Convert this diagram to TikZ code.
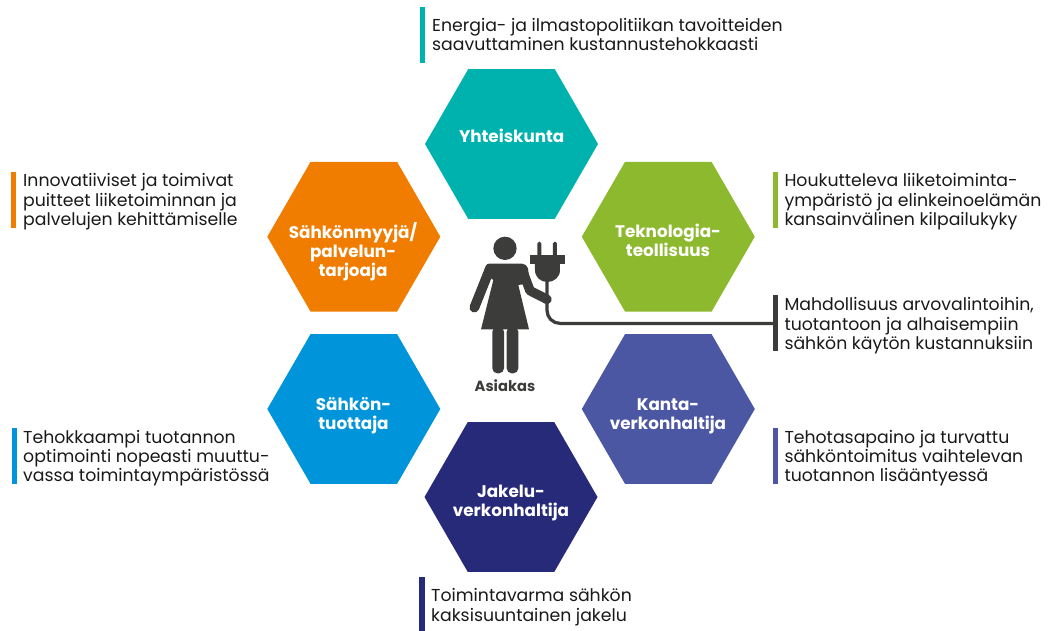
\documentclass[tikz,border=0pt]{standalone}
\usepackage{fontspec}
\setmainfont{Poppins}
\usetikzlibrary{shapes.geometric}
\definecolor{cteal}{HTML}{00B2AE}
\definecolor{corange}{HTML}{F07D00}
\definecolor{cgreen}{HTML}{8DB92E}
\definecolor{cblue}{HTML}{0095DA}
\definecolor{cpurple}{HTML}{4C57A3}
\definecolor{cnavy}{HTML}{262A78}
\definecolor{cdark}{HTML}{3C3C3B}
\newcommand{\fl}{\rule{0pt}{15pt}}
\tikzset{
  hexa/.style={regular polygon,regular polygon sides=6,minimum size=173pt,inner sep=0pt,outer sep=0pt,fill=#1,draw=none},
  hexlabel/.style={anchor=north,inner sep=0pt,align=center,text=white,font=\fontsize{16.8}{19}\selectfont\bfseries},
  info/.style={anchor=north west,inner sep=0pt,align=left,text=black!90,font=\fontsize{17.3}{19.3}\selectfont},
  infobar/.style={fill=#1,draw=none,rectangle,inner sep=0pt,outer sep=0pt,minimum width=5.4pt,minimum height=56pt},
  figure part/.style={fill=cdark,draw=none},
}
\begin{document}
\begin{tikzpicture}[x=1pt,y=-1pt]
\useasboundingbox (0,0) rectangle (1049,630);
% hexagons
\node[hexa=cteal] (h1) at (511.5,144) {};
\node[hexa=cgreen] (h2) at (668.3,236.7) {};
\node[hexa=cpurple] (h3) at (668.3,409) {};
\node[hexa=cnavy] (h4) at (511,497) {};
\node[hexa=cblue] (h5) at (353.8,409) {};
\node[hexa=corange] (h6) at (353.8,236.7) {};
% hexagon labels
\node[hexlabel] (l1) at (511.7,127.7) {\fl Yhteiskunta};
\node[hexlabel] (l2) at (668,222.3) {\fl Teknologia-\\teollisuus};
\node[hexlabel] (l3) at (668,395) {\fl Kanta-\\verkonhaltija};
\node[hexlabel] (l4) at (511,482.3) {\fl Jakelu-\\verkonhaltija};
\node[hexlabel] (l5) at (353.5,395) {\fl Sähkön-\\tuottaja};
\node[hexlabel] (l6) at (353,222.3) {\fl Sähkönmyyjä/\\palvelun-\\tarjoaja};
% bars
\node[infobar=cteal] (b1) at (422.7,34.8) {};
\node[infobar=cgreen] (b2) at (775.4,200) {};
\node[infobar=cdark] (b7) at (775.4,323.4) {};
\node[infobar=cpurple] (b3) at (775.4,456) {};
\node[infobar=cnavy,minimum height=54pt] (b4) at (422,603.5) {};
\node[infobar=cblue] (b5) at (14.5,456) {};
\node[infobar=corange] (b6) at (13.4,199.7) {};
% texts
\node[info] (t1) at (432,16) {\fl Energia- ja ilmastopolitiikan tavoitteiden\\saavuttaminen kustannustehokkaasti};
\node[info] (t2) at (784.3,171.7) {\fl Houkutteleva liiketoiminta-\\ympäristö ja elinkeinoelämän\\kansainvälinen kilpailukyky};
\node[info] (t7) at (784.3,295.7) {\fl Mahdollisuus arvovalintoihin,\\tuotantoon ja alhaisempiin\\sähkön käytön kustannuksiin};
\node[info] (t3) at (784.3,428) {\fl Tehotasapaino ja turvattu\\sähköntoimitus vaihtelevan\\tuotannon lisääntyessä};
\node[info] (t4) at (431,586.7) {\fl Toimintavarma sähkön\\kaksisuuntainen jakelu};
\node[info] (t5) at (23,428) {\fl Tehokkaampi tuotannon\\optimointi nopeasti muuttu-\\vassa toimintaympäristössä};
\node[info] (t6) at (23,171.7) {\fl Innovatiiviset ja toimivat\\puitteet liiketoiminnan ja\\palvelujen kehittämiselle};
% customer figure
\begin{scope}[shift={(450,220)},x=0.3333pt,y=-0.3333pt]
  \fill[figure part] (165,85) circle[radius=35];
  % torso and dress
  \fill[figure part] (118,131) -- (216,131) .. controls (224,131) and (230,136) .. (234,146)
    -- (240,190) -- (205,195) -- (237,328) -- (93,328) -- (130,180) -- (103,160)
    .. controls (104,140) and (108,131) .. (118,131) -- cycle;
  % arms
  \draw[cdark,line width=9.8pt,line cap=round,line join=round] (119,148) -- (73,263);
  \draw[cdark,line width=9.5pt,line cap=round,line join=round] (216,148) -- (240,212) -- (291,238);
  % legs
  \fill[figure part,rounded corners=5pt] (127,320) rectangle (162,460);
  \fill[figure part,rounded corners=5pt] (170,320) rectangle (205,460);
  % plug
  \fill[figure part,rounded corners=1.8pt] (262,65) rectangle (274,112);
  \fill[figure part,rounded corners=1.8pt] (309,65) rectangle (321,112);
  \fill[figure part] (240,104) rectangle (344,131);
  \fill[figure part] (255,128) -- (330,128) -- (330,150) .. controls (330,172) and (312,186) .. (292,186) .. controls (272,186) and (255,172) .. (255,150) -- cycle;
\end{scope}
\coordinate (plugend) at (547,280);
\draw[cdark,line width=3.2pt,rounded corners=13pt] (plugend) |- (b7.center);
\node[anchor=north,inner sep=0pt,text=cdark,font=\fontsize{14.7}{16}\selectfont\bfseries] (asiakas) at (505,376.7) {\fl Asiakas};
\end{tikzpicture}
\end{document}
